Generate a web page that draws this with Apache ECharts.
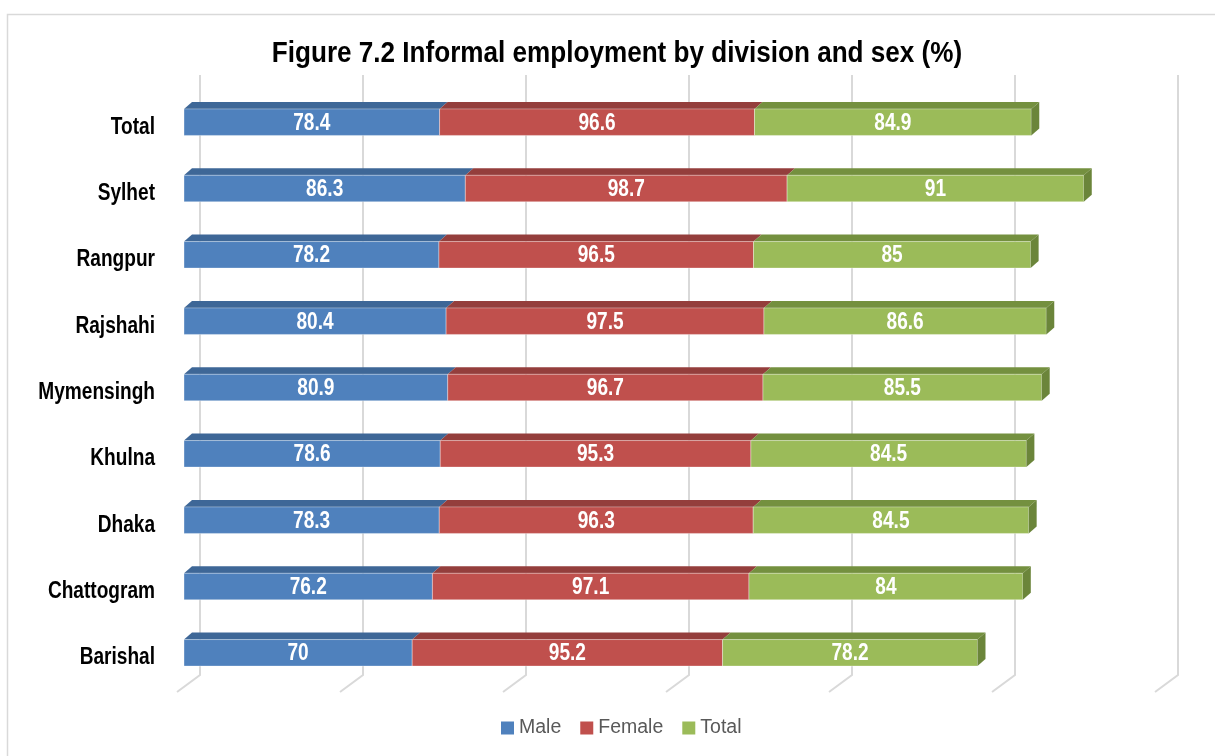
<!DOCTYPE html>
<html>
<head>
<meta charset="utf-8">
<script src="https://cdn.jsdelivr.net/npm/echarts@6/dist/echarts.min.js"></script>
<style>html,body{margin:0;padding:0;background:#fff}#c{width:1215px;height:756px}</style>
</head>
<body>
<div id="c"></div>
<script>
const categories = ['Barishal', 'Chattogram', 'Dhaka', 'Khulna', 'Mymensingh', 'Rajshahi', 'Rangpur', 'Sylhet', 'Total'];
const maleValues = [70, 76.2, 78.3, 78.6, 80.9, 80.4, 78.2, 86.3, 78.4];
const femaleValues = [95.2, 97.1, 96.3, 95.3, 96.7, 97.5, 96.5, 98.7, 96.6];
const totalValues = [78.2, 84, 84.5, 84.5, 85.5, 86.6, 85, 91, 84.9];
const gridTicks = [0, 50, 100, 150, 200, 250, 300];

const FONT = '"Liberation Sans", Arial, sans-serif';
const NARROW = 0.83;
const DX = 8, DY = -7;

function makeSeries(name, values, offsets, front, top, side, isLast) {
  return {
    name: name,
    type: 'custom',
    z: 3,
    itemStyle: { color: front },
    data: values.map((v, i) => [offsets[i], offsets[i] + v, i, v]),
    encode: { x: [0, 1], y: 2 },
    renderItem: function (params, api) {
      const s = api.value(0), e = api.value(1), ci = api.value(2), val = api.value(3);
      const p0 = api.coord([s, ci]);
      const p1 = api.coord([e, ci]);
      const h = api.size([0, 1])[1] * 0.4;
      const y0 = p0[1] - h / 2, y1 = p0[1] + h / 2;
      const x0 = p0[0], x1 = p1[0];
      const children = [
        { type: 'polygon', shape: { points: [[x0, y0], [x0 + DX, y0 + DY], [x1 + DX, y0 + DY], [x1, y0]] },
          style: { fill: top } },
        { type: 'rect', shape: { x: x0, y: y0, width: x1 - x0, height: h },
          style: { fill: front, stroke: 'rgba(255,255,255,0.35)', lineWidth: 1 } },
      ];
      if (isLast) {
        children.push({ type: 'polygon', shape: { points: [[x1, y0], [x1 + DX, y0 + DY], [x1 + DX, y1 + DY], [x1, y1]] },
          style: { fill: side } });
      }
      children.push({ type: 'text', x: (x0 + x1) / 2, y: p0[1] + 1, scaleX: NARROW,
        style: { text: String(val), x: 0, y: 0,
        align: 'center', verticalAlign: 'middle', fill: '#fff', font: 'bold 23px ' + FONT } });
      return { type: 'group', children: children };
    }
  };
}

const zeros = categories.map(() => 0);
const femOff = maleValues.slice();
const totOff = maleValues.map((v, i) => v + femaleValues[i]);

const chart = echarts.init(document.getElementById('c'), null, { renderer: 'canvas' });
chart.setOption({
  animation: false,
  backgroundColor: '#fff',
  legend: {
    top: 713, left: 496,
    itemWidth: 13, itemHeight: 13, itemGap: 19,
    icon: 'rect',
    textStyle: { fontFamily: FONT, fontSize: 19.5, color: '#595959' },
    data: [
      { name: 'Male', itemStyle: { color: '#4F81BD' } },
      { name: 'Female', itemStyle: { color: '#C0504D' } },
      { name: 'Total', itemStyle: { color: '#9BBB59' } }
    ]
  },
  graphic: [{
    type: 'rect', silent: true, z: -10,
    shape: { x: 7.5, y: 14.5, width: 1400, height: 900 },
    style: { fill: 'none', stroke: '#D9D9D9', lineWidth: 1.5 }
  }, {
    type: 'text', silent: true, x: 617, y: 54, scaleX: 0.87,
    style: { text: 'Figure 7.2 Informal employment by division and sex (%)', x: 0, y: 0,
      align: 'center', verticalAlign: 'middle', fill: '#000', font: 'bold 30px ' + FONT }
  }],
  grid: { left: 184, right: 53, top: 89, bottom: 70, containLabel: false },
  xAxis: {
    type: 'value', min: 0, max: 300, interval: 50,
    axisLabel: { show: false }, axisLine: { show: false }, axisTick: { show: false }, splitLine: { show: false }
  },
  yAxis: {
    type: 'category', data: categories,
    axisLine: { show: false }, axisTick: { show: false },
    axisLabel: { show: false }
  },
  series: [
    {
      type: 'custom', z: 1, silent: true,
      data: gridTicks.map(v => [v]),
      encode: { x: 0 },
      renderItem: function (params, api) {
        const x = api.coord([api.value(0), 0])[0];
        const cs = params.coordSys;
        const bottom = cs.y + cs.height;
        return {
          type: 'polyline',
          shape: { points: [[x + 16, cs.y - 14], [x + 16, bottom - 11], [x - 7, bottom + 6]] },
          style: { fill: 'none', stroke: '#D9D9D9', lineWidth: 2 }
        };
      }
    },
    {
      type: 'custom', z: 2, silent: true,
      data: categories.map((c, i) => [0, i, c]),
      encode: { x: 0, y: 1 },
      renderItem: function (params, api) {
        const p = api.coord([0, api.value(1)]);
        return {
          type: 'text', x: p[0] - 29, y: p[1] + 5, scaleX: NARROW,
          style: { text: categories[api.value(1)], x: 0, y: 0, align: 'right', verticalAlign: 'middle',
            fill: '#000', font: 'bold 23px ' + FONT }
        };
      }
    },
    makeSeries('Male', maleValues, zeros, '#4F81BD', '#3E6797', '#3E6797', false),
    makeSeries('Female', femaleValues, femOff, '#C0504D', '#943E3C', '#943E3C', false),
    makeSeries('Total', totalValues, totOff, '#9BBB59', '#74903F', '#6B853A', true)
  ]
});
</script>
</body>
</html>
